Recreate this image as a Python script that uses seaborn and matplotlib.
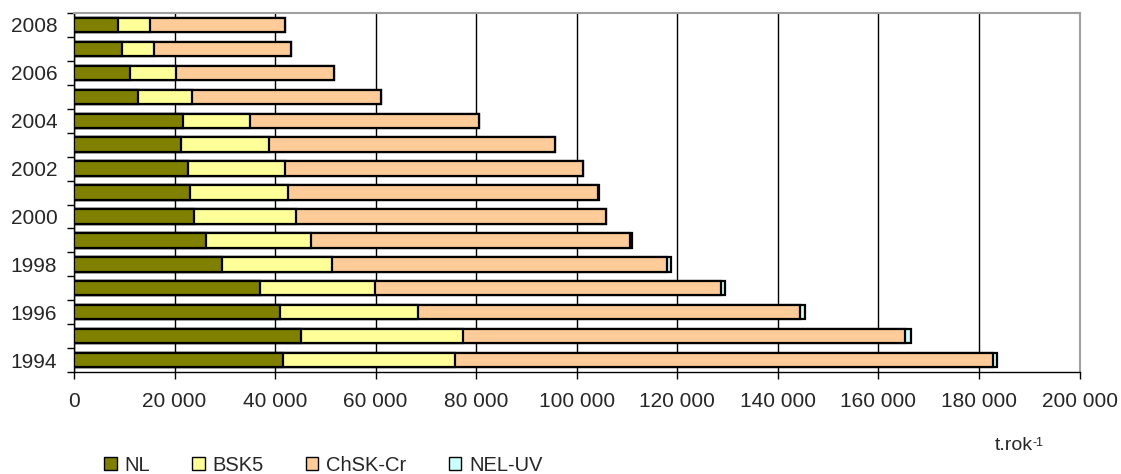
import numpy as np
import pandas as pd
import seaborn as sns
import matplotlib.pyplot as plt
from matplotlib.patches import Patch

# data, 1994 .. 2008 (t/rok)
years = [str(y) for y in range(1994, 2009)]
nl = [41500, 45100, 41000, 37000, 29500, 26300, 23900, 23100, 22700, 21200, 21600, 12800, 11100, 9600, 8800]
bsk5 = [34200, 32200, 27500, 22800, 21900, 20800, 20300, 19500, 19200, 17500, 13400, 10700, 9200, 6300, 6300]
chsk = [107000, 87900, 76000, 68800, 66500, 63400, 61700, 61600, 59300, 56900, 45500, 37500, 31500, 27200, 26800]
nel = [900, 1200, 800, 800, 800, 400, 0, 300, 0, 0, 0, 0, 0, 0, 0]

series = ['NL', 'BSK5', 'ChSK-Cr', 'NEL-UV']
colors = ['#808000', '#FFFF99', '#FFCC99', '#CCFFFF']

df = pd.DataFrame({'rok': years, 'NL': nl, 'BSK5': bsk5, 'ChSK-Cr': chsk, 'NEL-UV': nel})
cum = df[series].cumsum(axis=1)
cum['rok'] = df['rok']

sns.set_style('white')
plt.rcParams['font.family'] = ['Liberation Sans', 'DejaVu Sans']

fig = plt.figure(figsize=(11.21, 4.74), dpi=100)
ax = fig.add_axes([0.066, 0.215, 0.897, 0.7576])

order = years[::-1]
# draw cumulative bars, longest first so shorter ones sit on top
for s, c in zip(series[::-1], colors[::-1]):
    sns.barplot(data=cum, x=s, y='rok', order=order, orient='h', color=c, saturation=1,
                edgecolor='black', linewidth=1.6, width=0.6, ax=ax, zorder=3)

ax.set_xlim(0, 200000)
ax.set_ylim(14.5, -0.5)
ax.set_xticks(np.arange(0, 200001, 20000))
ax.set_xticklabels(['0' if v == 0 else f'{v // 1000} 000' for v in range(0, 200001, 20000)])
ax.set_yticks(range(15))
ax.set_yticklabels([y if int(y) % 2 == 0 else '' for y in order])
ax.set_yticks(np.arange(-0.5, 15, 1), minor=True)
ax.tick_params(axis='y', which='major', length=0, pad=12, labelsize=15)
ax.tick_params(axis='y', which='minor', length=5, width=1, color='black', left=True)
ax.tick_params(axis='x', length=5, width=1, color='black', bottom=True, pad=9, labelsize=15)
ax.set_xlabel('')
ax.set_ylabel('')
ax.grid(axis='x', color='black', linewidth=1, zorder=0)
ax.set_axisbelow(True)

for side in ['left', 'bottom']:
    ax.spines[side].set_color('black')
    ax.spines[side].set_linewidth(1)
for side in ['top', 'right']:
    ax.spines[side].set_color('#a0a0a0')
    ax.spines[side].set_linewidth(1.5)

unit = fig.text(0.887, 0.05, 't.rok', fontsize=14)
fig.canvas.draw()
plt.annotate('-1', xy=(1.0, 1.0), xycoords=unit, va='top', ha='left', fontsize=9)

handles = [Patch(facecolor=c, edgecolor='black', linewidth=1) for c in colors]
fig.legend(handles, series, loc='lower left', bbox_to_anchor=(0.077, -0.04), ncol=4,
           frameon=False, fontsize=14.5, handlelength=0.6, handleheight=0.6,
           handletextpad=0.4, columnspacing=2.1)

fig.savefig('out.png', dpi=100)
